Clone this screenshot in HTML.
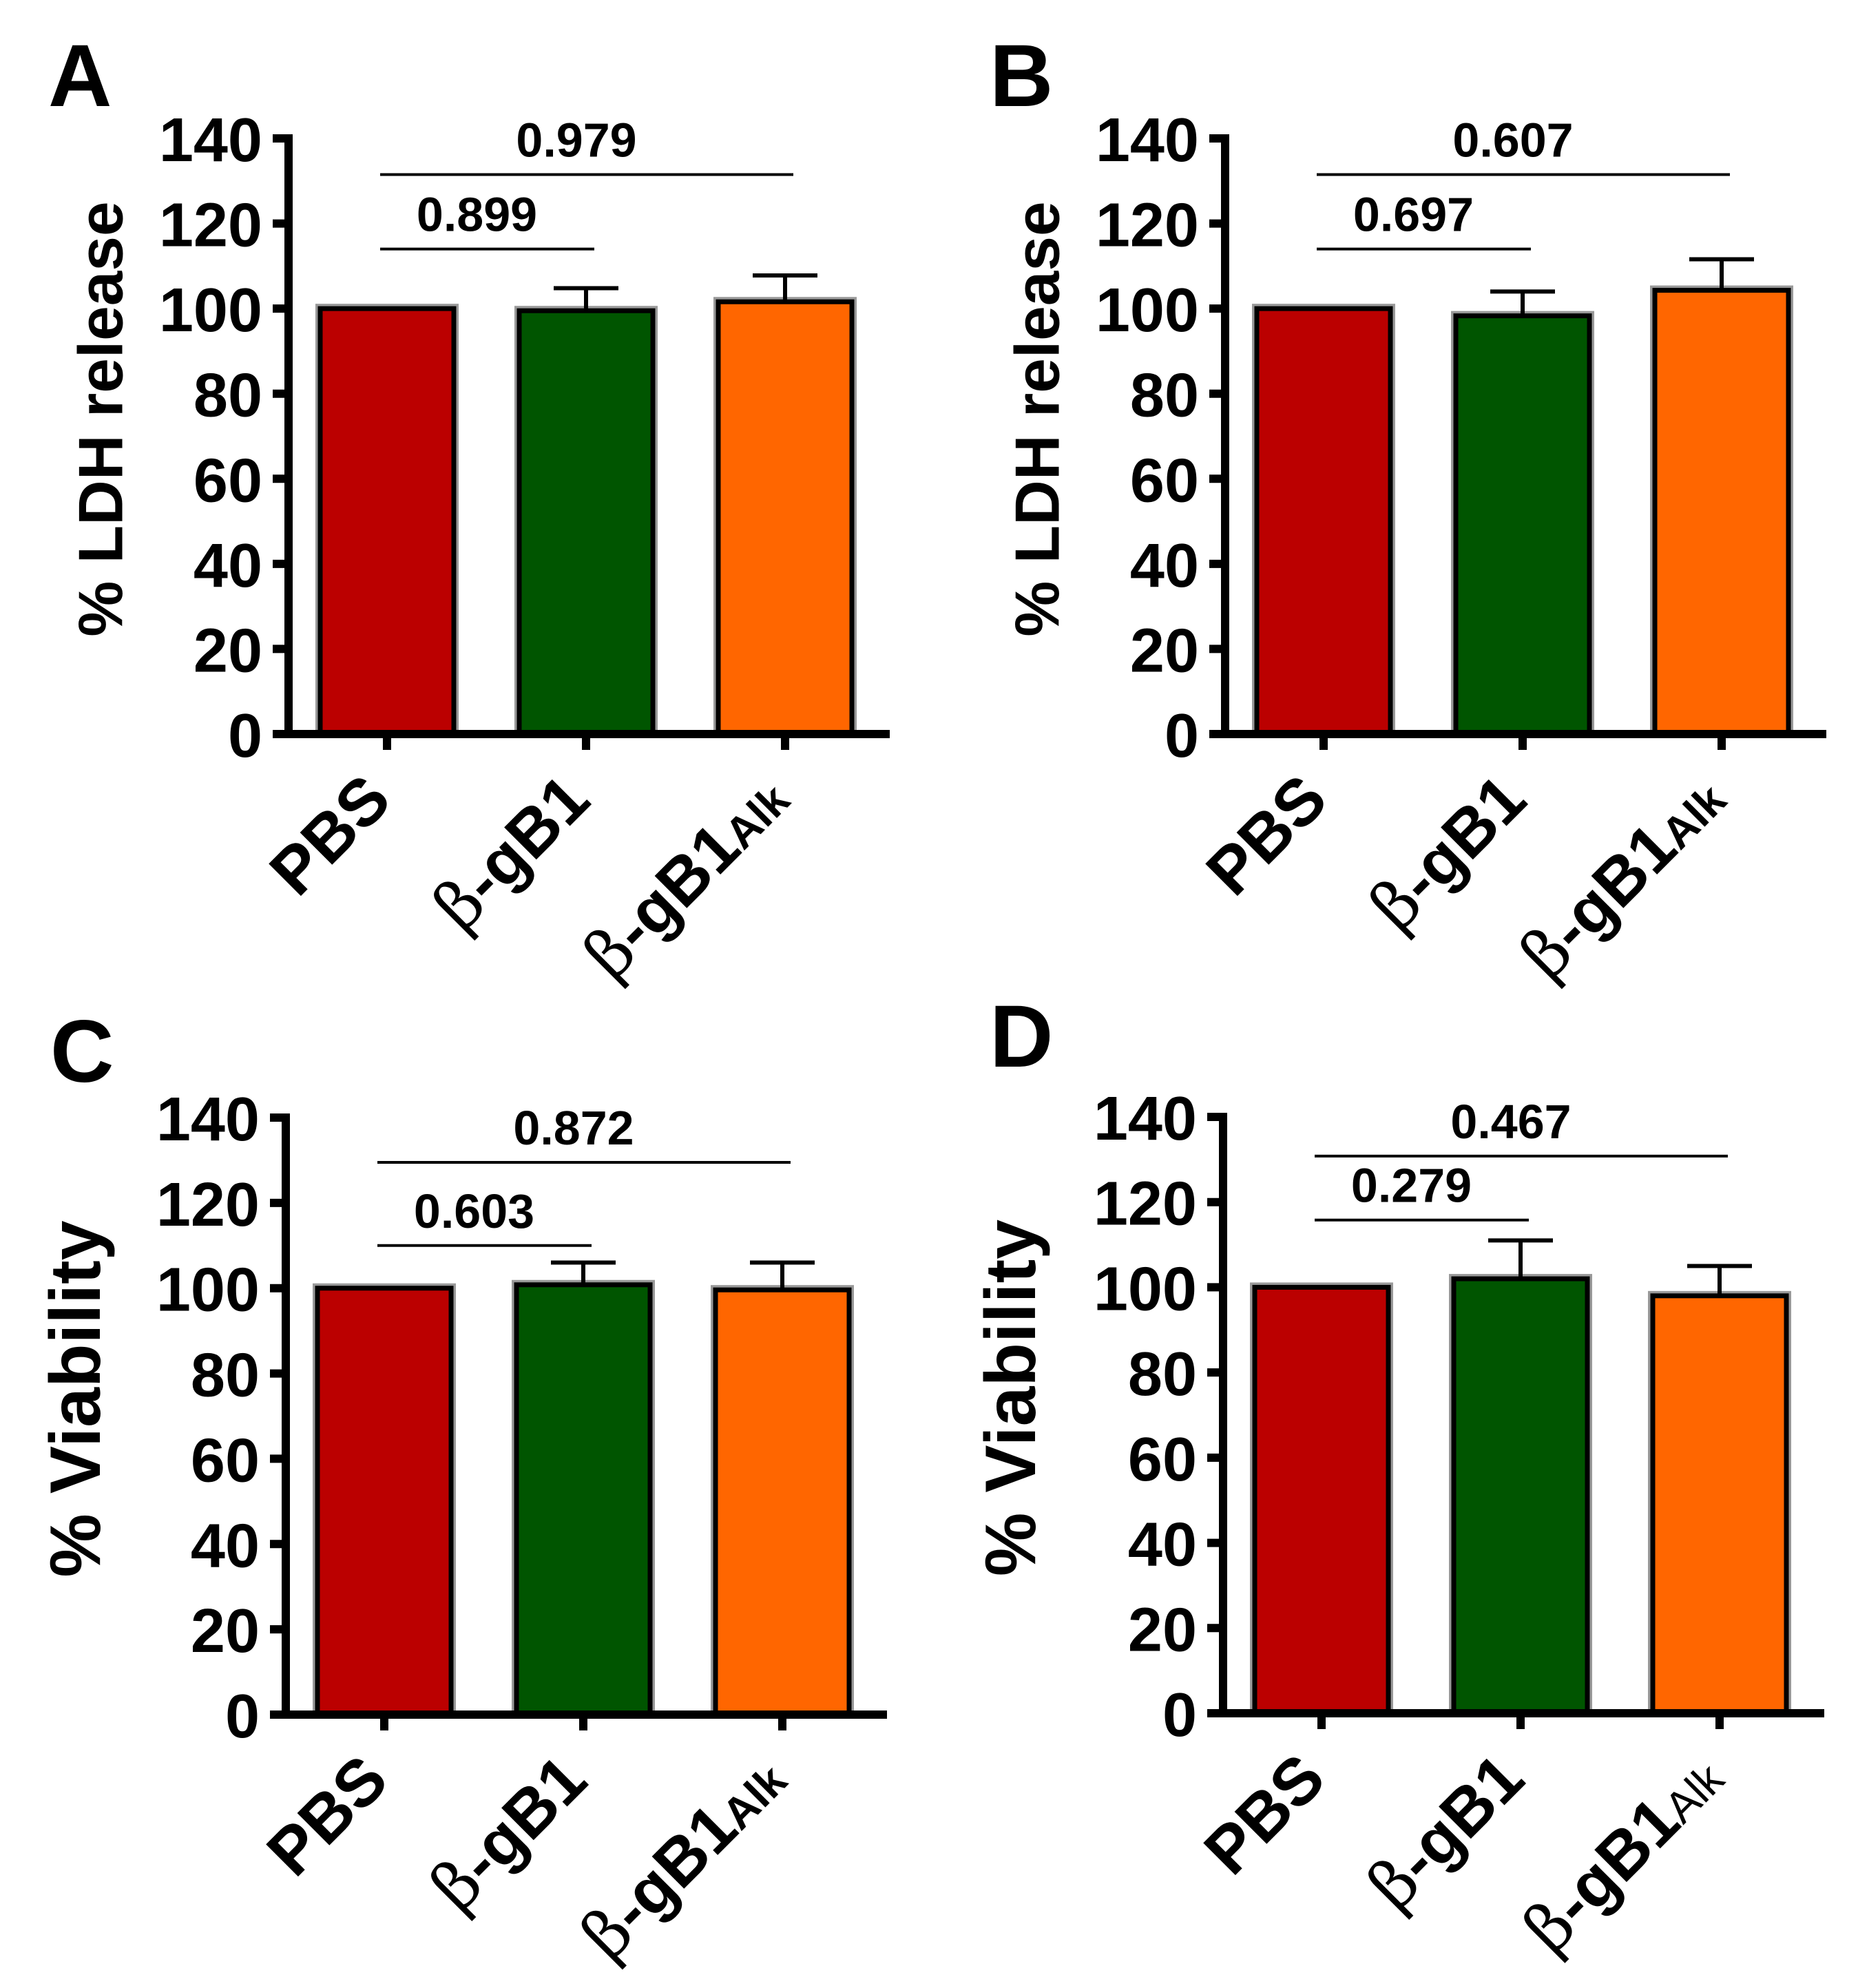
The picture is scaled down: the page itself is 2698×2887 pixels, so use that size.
<!DOCTYPE html>
<html><head><meta charset="utf-8"><style>
html,body{margin:0;padding:0;background:#fff;}
svg{display:block;font-family:"Liberation Sans",Arial,sans-serif;}
</style></head><body>
<svg id="fig" width="2698" height="2887" viewBox="0 0 2698 2887" xmlns="http://www.w3.org/2000/svg"></svg>
<script>
const categories = ["PBS", "β-gB1", "β-gB1Alk"];
const yTicks = [0, 20, 40, 60, 80, 100, 120, 140];
const aMeans = [100, 99.5, 101.6];
const aErrs = [0, 5.3, 6.2];
const bMeans = [100, 98.3, 104.3];
const bErrs = [0, 5.7, 7.3];
const cMeans = [100, 100.8, 99.6];
const cErrs = [0, 5.2, 6.4];
const dMeans = [100, 102, 98];
const dErrs = [0, 9, 7];
const aPvals = ["0.899", "0.979"];
const bPvals = ["0.697", "0.607"];
const cPvals = ["0.603", "0.872"];
const dPvals = ["0.279", "0.467"];
const aPy = [114, 131.5];
const bPy = [114, 131.5];
const cPy = [110, 129.5];
const dPy = [115.8, 130.8];
const colors = ["#BB0000", "#005500", "#FF6600"];

const NS = "http://www.w3.org/2000/svg";
const svg = document.getElementById("fig");
function mk(tag, attrs, parent) {
  const e = document.createElementNS(NS, tag);
  for (const k in attrs) e.setAttribute(k, attrs[k]);
  (parent || svg).appendChild(e);
  return e;
}

const panels = [
  {id:"a", letter:"A", ax:419, top:201, base:1066, lx:70, ly:154, title:"% LDH release", tfs:91, tx:147, means:aMeans, errs:aErrs, p:aPvals, py:aPy},
  {id:"b", letter:"B", ax:1779, top:201, base:1066, lx:1437, ly:154, title:"% LDH release", tfs:91, tx:1507, means:bMeans, errs:bErrs, p:bPvals, py:bPy},
  {id:"c", letter:"C", ax:415, top:1623, base:2490, lx:73, ly:1571, title:"% Viability", tfs:104, tx:110, means:cMeans, errs:cErrs, p:cPvals, py:cPy},
  {id:"d", letter:"D", ax:1776, top:1622, base:2488, lx:1437, ly:1549, title:"% Viability", tfs:104, tx:1468, means:dMeans, errs:dErrs, p:dPvals, py:dPy}
];

panels.forEach(P => {
  const g = mk("g", {});
  
  
  const yScale = v => P.base - (P.base - P.top) * v / 140;
  const xCenter = i => P.ax + 143 + i * 289;

  const letter = mk("text", {x:P.lx, y:P.ly, "font-size":128, "font-weight":"bold"}, g);
  letter.textContent = P.letter;
  
  

  const cy = (P.top + P.base) / 2 - 25;
  const yt = mk("text", {x:P.tx, y:cy, "font-size":P.tfs, "font-weight":"bold", "text-anchor":"middle", transform:`rotate(-90 ${P.tx} ${cy})`, "dominant-baseline":"central"}, g);
  yt.textContent = P.title;
  
  

  P.means.forEach((m, i) => {
    const x = xCenter(i) - 97;
    const y = yScale(m);
    const halo = mk("rect", {x:x-2, y:y-2, width:198, height:P.base - y + 2, fill:"none", stroke:"#999", "stroke-width":10}, g);
    
    
    const r = mk("rect", {x:x, y:y, width:194, height:P.base - y, fill:colors[i], stroke:"#000", "stroke-width":7}, g);
    
    
    if (P.errs[i] > 0) {
      const ye = yScale(m + P.errs[i]);
      const l = mk("line", {x1:xCenter(i), x2:xCenter(i), y1:y, y2:ye, stroke:"#000", "stroke-width":6}, g);
      
      
      const c = mk("line", {x1:xCenter(i)-47, x2:xCenter(i)+47, y1:ye, y2:ye, stroke:"#000", "stroke-width":6}, g);
      
      
    }
  });

  const ya = mk("line", {x1:P.ax, x2:P.ax, y1:P.top - 6, y2:P.base + 6, stroke:"#000", "stroke-width":12}, g);
  
  
  const xa = mk("line", {x1:P.ax - 23, x2:P.ax + 873, y1:P.base, y2:P.base, stroke:"#000", "stroke-width":12}, g);
  
  

  yTicks.forEach(t => {
    const y = yScale(t);
    const tk = mk("line", {x1:P.ax - 23, x2:P.ax, y1:y, y2:y, stroke:"#000", "stroke-width":12}, g);
    
    
    const tl = mk("text", {x:P.ax - 38, y:y + 33, "font-size":90, "font-weight":"bold", "text-anchor":"end"}, g);
    tl.textContent = t;
    
    
  });

  categories.forEach((c, i) => {
    const x = xCenter(i);
    const tk = mk("line", {x1:x, x2:x, y1:P.base, y2:P.base + 23, stroke:"#000", "stroke-width":12}, g);
    
    
    const ax = x + 10, ay = P.base + 100;
    const t = mk("text", {x:ax, y:ay, "font-size":96, "font-weight":"bold", "text-anchor":"end", transform:`rotate(-45 ${ax} ${ay})`}, g);
    
    
    if (c.startsWith("β")) {
      const b = mk("tspan", {"font-weight":"normal", "font-family":"DejaVu Serif, serif"}, t);
      b.textContent = "β";
      const rest = mk("tspan", {}, t);
      rest.textContent = "-gB1";
      if (c.endsWith("Alk")) {
        const s = mk("tspan", {"font-size":64, "font-weight": P.id === "d" ? "normal" : "bold"}, t);
        s.textContent = "Alk";
      }
    } else {
      t.textContent = c;
    }
  });

  P.p.forEach((pv, k) => {
    const x1 = xCenter(0) - 10;
    const x2 = xCenter(k + 1) + 12;
    const y = yScale(P.py[k]);
    const l = mk("line", {x1:x1, x2:x2, y1:y, y2:y, stroke:"#000", "stroke-width":4}, g);
    
    
    const t = mk("text", {x:(x1 + x2) / 2 - 15, y:y - 26, "font-size":70, "font-weight":"bold", "text-anchor":"middle"}, g);
    t.textContent = pv;
    
    
  });
});
</script>
</body></html>
